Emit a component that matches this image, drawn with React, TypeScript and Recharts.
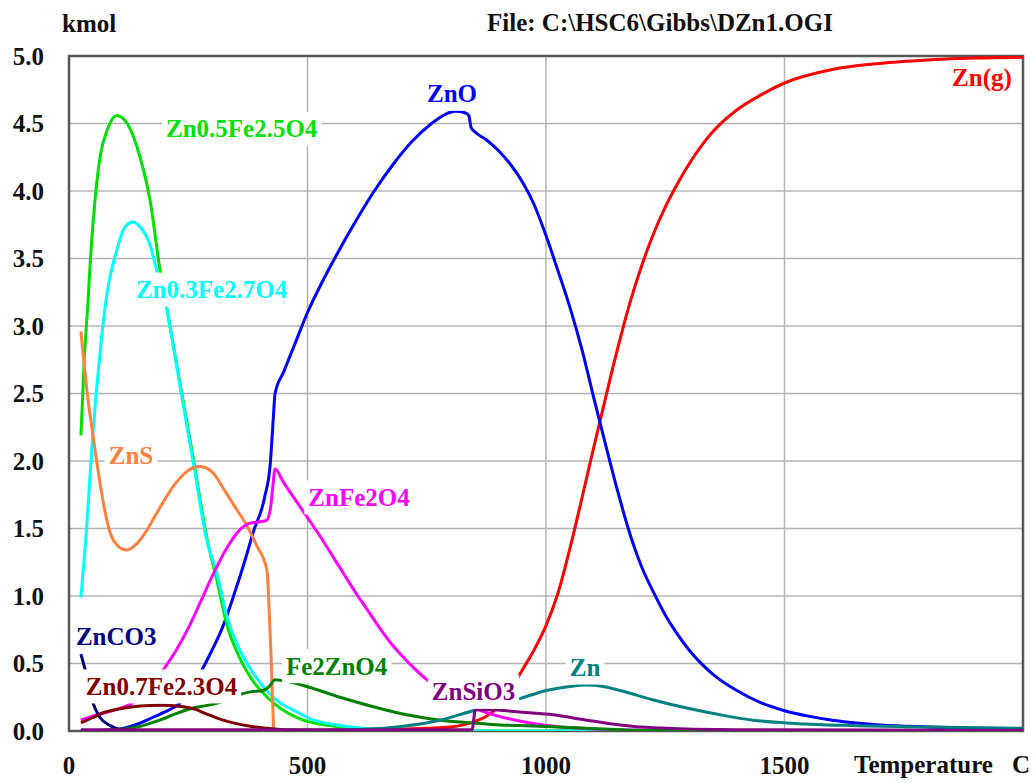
import React from "react";
import {
  LineChart,
  Line,
  XAxis,
  YAxis,
  CartesianGrid,
  ReferenceDot,
  ReferenceArea,
} from "recharts";

type Pt = [number, number];

// temperature (C) / amount (kmol) pairs
const ZN_G: Pt[] = [
  [25, 0], [300, 0], [500, 0.005], [650, 0.01], [750, 0.02], [800, 0.03], [850, 0.07],
  [875, 0.11], [900, 0.18], [925, 0.3], [950, 0.45], [975, 0.6], [1000, 0.78],
  [1025, 1.02], [1050, 1.35], [1075, 1.72], [1100, 2.1], [1125, 2.47], [1150, 2.83],
  [1175, 3.16], [1200, 3.44], [1225, 3.68], [1250, 3.88], [1275, 4.05], [1300, 4.2],
  [1350, 4.44], [1400, 4.6], [1450, 4.71], [1500, 4.8], [1600, 4.9], [1700, 4.945],
  [1800, 4.97], [1900, 4.985], [2000, 4.99],
];
const ZNO: Pt[] = [
  [25, 0], [75, 0.005], [100, 0.01], [125, 0.03], [150, 0.06], [175, 0.1], [200, 0.14],
  [236, 0.22], [255, 0.32], [275, 0.43], [300, 0.6], [321, 0.76], [345, 1.0], [372, 1.3],
  [386, 1.47], [410, 1.73], [422, 1.98], [428, 2.3], [432, 2.5], [450, 2.66], [475, 2.88],
  [500, 3.1], [530, 3.32], [560, 3.52], [600, 3.77], [640, 4.0], [680, 4.2], [720, 4.37],
  [760, 4.5], [790, 4.57], [810, 4.59], [830, 4.58], [838, 4.56], [843, 4.47],
  [850, 4.44], [875, 4.38], [900, 4.3], [925, 4.2], [950, 4.07], [975, 3.9], [1000, 3.67],
  [1025, 3.41], [1050, 3.14], [1075, 2.83], [1100, 2.47], [1125, 2.12], [1150, 1.78],
  [1175, 1.47], [1200, 1.22], [1225, 1.03], [1250, 0.86], [1275, 0.72], [1300, 0.6],
  [1350, 0.42], [1400, 0.3], [1450, 0.21], [1500, 0.15], [1550, 0.11], [1600, 0.08],
  [1650, 0.06], [1700, 0.045], [1800, 0.03], [1900, 0.02], [2000, 0.015],
];
const ZN05: Pt[] = [
  [25, 2.19], [32, 2.75], [40, 3.19], [45, 3.5], [55, 3.95], [65, 4.25], [80, 4.45],
  [100, 4.56], [122, 4.5], [149, 4.25], [170, 3.93], [191, 3.41], [203, 3.17],
  [233, 2.57], [262, 1.99], [289, 1.43], [310, 1.12], [330, 0.8], [358, 0.54],
  [386, 0.37], [428, 0.21], [484, 0.09], [568, 0.03], [650, 0.008], [800, 0], [2000, 0],
];
const ZN03: Pt[] = [
  [25, 0.99], [35, 1.41], [50, 2.2], [65, 2.8], [80, 3.25], [100, 3.56], [115, 3.72],
  [134, 3.77], [150, 3.73], [170, 3.6], [184, 3.41], [203, 3.16], [233, 2.55],
  [262, 1.96], [289, 1.41], [310, 1.17], [330, 0.86], [358, 0.6], [386, 0.43],
  [428, 0.25], [484, 0.13], [500, 0.1], [568, 0.04], [650, 0.012], [750, 0.002],
  [900, 0], [2000, 0],
];
const ZNS: Pt[] = [
  [25, 2.96], [40, 2.45], [50, 2.2], [60, 1.95], [71, 1.71], [86, 1.47], [100, 1.38],
  [121, 1.34], [140, 1.38], [160, 1.47], [180, 1.59], [200, 1.71], [220, 1.82],
  [240, 1.9], [260, 1.95], [275, 1.96], [290, 1.945], [305, 1.9], [323, 1.8],
  [348, 1.66], [373, 1.52], [394, 1.37], [415, 1.19], [419, 0.95], [423, 0.6],
  [427, 0.2], [429, 0],
];
const ZNFE2O4: Pt[] = [
  [25, 0.08], [50, 0.11], [100, 0.16], [134, 0.21], [165, 0.3], [197, 0.45], [225, 0.6],
  [254, 0.79], [280, 0.99], [302, 1.16], [330, 1.35], [358, 1.49], [380, 1.54],
  [400, 1.55], [414, 1.56], [422, 1.64], [427, 1.8], [432, 1.94], [450, 1.84],
  [475, 1.71], [500, 1.58], [525, 1.45], [550, 1.31], [575, 1.17], [600, 1.03],
  [625, 0.9], [650, 0.77], [675, 0.65], [700, 0.55], [725, 0.46], [750, 0.38],
  [800, 0.26], [850, 0.17], [900, 0.11], [950, 0.07], [1000, 0.04], [1100, 0.015],
  [1200, 0.005], [1400, 0], [2000, 0],
];
const ZNCO3: Pt[] = [
  [25, 0.57], [35, 0.44], [50, 0.21], [65, 0.1], [86, 0.04], [110, 0.01], [150, 0], [300, 0],
];
const FE2ZNO4: Pt[] = [
  [25, 0], [75, 0.005], [100, 0.01], [155, 0.04], [190, 0.08], [226, 0.13], [260, 0.17],
  [290, 0.19], [323, 0.22], [358, 0.27], [380, 0.29], [407, 0.3], [420, 0.33],
  [432, 0.38], [445, 0.375], [498, 0.33], [568, 0.25], [638, 0.18], [708, 0.12],
  [778, 0.08], [847, 0.06], [904, 0.045], [945, 0.04], [1085, 0.02], [1200, 0.005],
  [1400, 0], [2000, 0],
];
const ZN07: Pt[] = [
  [25, 0.06], [50, 0.1], [75, 0.14], [100, 0.16], [150, 0.185], [191, 0.19], [239, 0.18],
  [265, 0.16], [289, 0.125], [315, 0.09], [344, 0.06], [380, 0.035], [414, 0.02],
  [450, 0.01], [500, 0.003], [600, 0],
];
const ZN: Pt[] = [
  [25, 0], [400, 0.002], [500, 0.005], [600, 0.01], [700, 0.035], [778, 0.08],
  [847, 0.15], [904, 0.2], [945, 0.24], [1001, 0.3], [1050, 0.33], [1085, 0.34],
  [1120, 0.33], [1155, 0.3], [1225, 0.23], [1295, 0.17], [1365, 0.12], [1434, 0.08],
  [1504, 0.06], [1644, 0.04], [1800, 0.03], [2000, 0.02],
];
const ZNSIO3: Pt[] = [
  [25, 0.01], [845, 0.01], [852, 0.16], [900, 0.155], [945, 0.14], [1015, 0.12],
  [1085, 0.08], [1155, 0.045], [1225, 0.025], [1400, 0.01], [2000, 0.005],
];

const X_TICKS = [0, 500, 1000, 1500];
const Y_TICKS = [0, 0.5, 1, 1.5, 2, 2.5, 3, 3.5, 4, 4.5, 5];

const SERIES = [
  { name: "Zn(g)", color: "#ff0000", pts: ZN_G },
  { name: "ZnO", color: "#0000ff", pts: ZNO },
  { name: "Zn0.5Fe2.5O4", color: "#00e000", pts: ZN05 },
  { name: "Zn0.3Fe2.7O4", color: "#00ffff", pts: ZN03 },
  { name: "ZnS", color: "#ff8040", pts: ZNS },
  { name: "ZnFe2O4", color: "#ff00ff", pts: ZNFE2O4 },
  { name: "ZnCO3", color: "#000080", pts: ZNCO3 },
  { name: "Fe2ZnO4", color: "#008000", pts: FE2ZNO4 },
  { name: "Zn0.7Fe2.3O4", color: "#800000", pts: ZN07 },
  { name: "Zn", color: "#008080", pts: ZN },
  { name: "ZnSiO3", color: "#800080", pts: ZNSIO3 },
];

// where each species name sits (data coordinates of the text centre)
const TAGS: { name: string; t: number; v: number }[] = [
  { name: "Zn(g)", t: 1914, v: 4.84 },
  { name: "ZnO", t: 803, v: 4.72 },
  { name: "Zn0.5Fe2.5O4", t: 362, v: 4.46 },
  { name: "Zn0.3Fe2.7O4", t: 299, v: 3.27 },
  { name: "ZnS", t: 130, v: 2.04 },
  { name: "ZnFe2O4", t: 608, v: 1.73 },
  { name: "ZnCO3", t: 99, v: 0.7 },
  { name: "Fe2ZnO4", t: 561, v: 0.48 },
  { name: "Zn0.7Fe2.3O4", t: 194, v: 0.33 },
  { name: "ZnSiO3", t: 848, v: 0.29 },
  { name: "Zn", t: 1082, v: 0.47 },
];

const FONT = "'Liberation Serif', 'Times New Roman', serif";
const FS = 25;

let ctx: CanvasRenderingContext2D | null = null;
function textWidth(s: string) {
  if (!ctx) ctx = document.createElement("canvas").getContext("2d");
  if (!ctx) return s.length * FS * 0.55;
  ctx.font = `bold ${FS}px ${FONT}`;
  return ctx.measureText(s).width;
}

const tagShape = (text: string, color: string) => (props: any) => {
  const { cx, cy } = props;
  const w = textWidth(text);
  return (
    <g>
      <rect x={cx - w / 2 - 4} y={cy - 17} width={w + 8} height={34} fill="#fff" />
      <text
        x={cx}
        y={cy}
        textAnchor="middle"
        dominantBaseline="central"
        fill={color}
        fontFamily={FONT}
        fontWeight="bold"
        fontSize={FS}
      >
        {text}
      </text>
    </g>
  );
};

const tickStyle = { fill: "#111", fontFamily: FONT, fontWeight: "bold", fontSize: FS };

export default function App() {
  return (
    <div style={{ position: "absolute", left: 0, top: 0, width: 1035, height: 783, background: "#fff" }}>
      <LineChart width={1035} height={783} margin={{ top: 56, right: 12, bottom: 0, left: 0 }}>
        <CartesianGrid stroke="#b4b4b4" strokeWidth={1.5} />
        <XAxis
          dataKey="t"
          type="number"
          domain={[0, 2000]}
          ticks={X_TICKS}
          allowDataOverflow
          height={52}
          axisLine={false}
          tickLine={false}
          tickSize={0}
          tickMargin={25}
          tick={tickStyle}
        />
        <YAxis
          type="number"
          domain={[0, 5]}
          ticks={Y_TICKS}
          allowDataOverflow
          width={69}
          axisLine={false}
          tickLine={false}
          tickSize={0}
          tickMargin={25}
          tick={tickStyle}
          tickFormatter={(v: number) => v.toFixed(1)}
        />
        {SERIES.map((s) => (
          <Line
            key={s.name}
            data={s.pts.map(([t, v]) => ({ t, v }))}
            dataKey="v"
            type="monotone"
            stroke={s.color}
            strokeWidth={3}
            dot={false}
            activeDot={false}
            isAnimationActive={false}
          />
        ))}
        <ReferenceArea x1={0} x2={2000} y1={0} y2={5} fill="none" stroke="#585858" strokeWidth={2.5} ifOverflow="visible" />
        {TAGS.map((g) => {
          const s = SERIES.find((x) => x.name === g.name)!;
          return (
            <ReferenceDot
              key={g.name}
              x={g.t}
              y={g.v}
              r={0}
              ifOverflow="visible"
              shape={tagShape(g.name, s.color)}
            />
          );
        })}
      </LineChart>
      <svg
        width={1035}
        height={783}
        style={{ position: "absolute", left: 0, top: 0, pointerEvents: "none" }}
        fontFamily={FONT}
        fontWeight="bold"
        fontSize={FS}
        fill="#111"
      >
        <text x={62} y={32}>kmol</text>
        <text x={487} y={31}>File: C:\HSC6\Gibbs\DZn1.OGI</text>
        <text x={854} y={773}>Temperature</text>
        <text x={1030} y={773} textAnchor="end">C</text>
      </svg>
    </div>
  );
}
